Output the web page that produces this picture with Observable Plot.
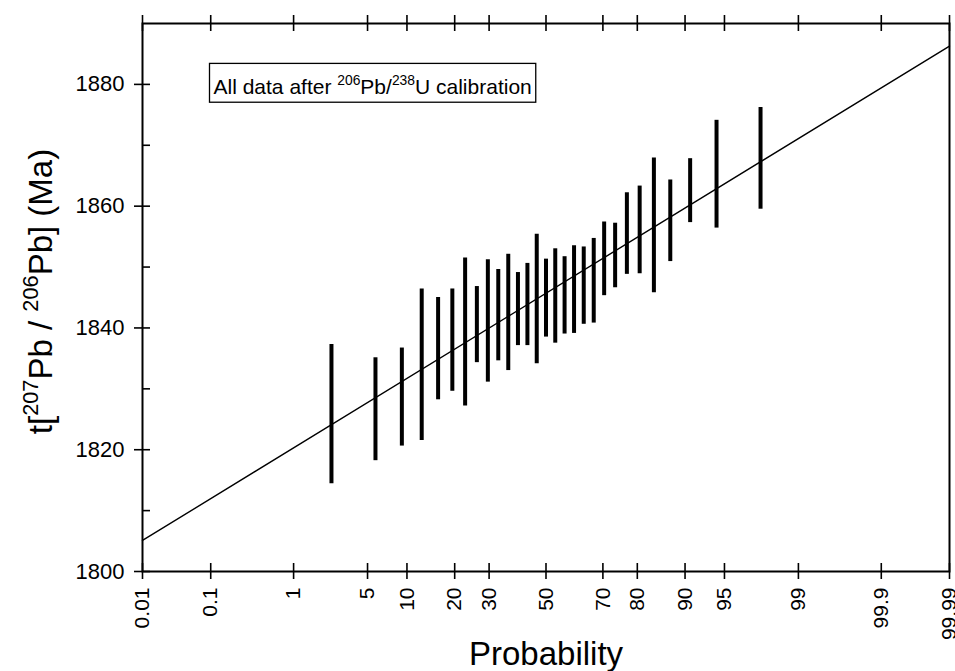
<!DOCTYPE html>
<html>
<head>
<meta charset="utf-8">
<script src="https://cdn.jsdelivr.net/npm/d3@7"></script>
<script src="https://cdn.jsdelivr.net/npm/@observablehq/plot@0.6"></script>
<style>
  html, body { margin: 0; padding: 0; background: #fff; }
  #chart svg { display: block; }
</style>
</head>
<body>
<div id="chart"></div>
<script>
// ---- data ----
const probability = [2.4, 5.8, 9.2, 12.6, 16.0, 19.4, 22.8, 26.2, 29.6, 33.0, 36.4, 39.8, 43.2, 46.6, 50.0,
  53.4, 56.8, 60.2, 63.6, 67.0, 70.4, 73.8, 77.2, 80.6, 84.0, 87.4, 90.8, 94.2, 97.6];
const ageHigh = [1837.3, 1835.1, 1836.7, 1846.4, 1845.0, 1846.4, 1851.5, 1846.8, 1851.2, 1849.6, 1852.1, 1849.1,
  1850.6, 1855.4, 1851.3, 1853.0, 1851.7, 1853.5, 1853.3, 1854.7, 1857.4, 1857.2, 1862.2, 1863.3, 1867.9,
  1864.3, 1867.8, 1874.1, 1876.2];
const ageLow = [1814.4, 1818.2, 1820.6, 1821.5, 1828.2, 1829.6, 1827.2, 1834.3, 1831.1, 1834.6, 1833.0, 1837.1,
  1837.1, 1834.1, 1838.5, 1837.5, 1839.0, 1839.1, 1840.6, 1840.8, 1845.3, 1846.6, 1848.8, 1848.9, 1845.8,
  1850.9, 1857.3, 1856.4, 1859.5];
const fitProbability = [0.01, 99.99];
const fitAge = [1805.1, 1886.3];
const xTickValues = [0.01, 0.1, 1, 5, 10, 20, 30, 50, 70, 80, 90, 95, 99, 99.9, 99.99];
const xTickLabels = ["0.01", "0.1", "1", "5", "10", "20", "30", "50", "70", "80", "90", "95", "99", "99.9", "99.99"];
const yMajorTicks = [1800, 1820, 1840, 1860, 1880];
const yMinorTicks = [1810, 1830, 1850, 1870];
const xDomainPct = [0.01, 99.99];
const yDomain = [1800, 1890];
const xTitle = "Probability";
const yTitleParts = [["t[", false], ["207", true], ["Pb / ", false], ["206", true], ["Pb] (Ma)", false]];
const noteParts = [["All data after ", false], ["206", true], ["Pb/", false], ["238", true], ["U calibration", false]];

// inverse standard normal CDF (probability-paper x scale)
function probit(p) {
  const a = [-3.969683028665376e+01, 2.209460984245205e+02, -2.759285104469687e+02, 1.383577518672690e+02, -3.066479806614716e+01, 2.506628277459239e+00];
  const b = [-5.447609879822406e+01, 1.615858368580409e+02, -1.556989798598866e+02, 6.680131188771972e+01, -1.328068155288572e+01];
  const c = [-7.784894002430293e-03, -3.223964580411365e-01, -2.400758277161838e+00, -2.549732539343734e+00, 4.374664141464968e+00, 2.938163982698783e+00];
  const d = [7.784695709041462e-03, 3.224671290700398e-01, 2.445134137142996e+00, 3.754408661907416e+00];
  const plow = 0.02425, phigh = 1 - plow;
  let q, r;
  if (p < plow) {
    q = Math.sqrt(-2 * Math.log(p));
    return (((((c[0]*q+c[1])*q+c[2])*q+c[3])*q+c[4])*q+c[5]) / ((((d[0]*q+d[1])*q+d[2])*q+d[3])*q+1);
  }
  if (p > phigh) {
    q = Math.sqrt(-2 * Math.log(1 - p));
    return -(((((c[0]*q+c[1])*q+c[2])*q+c[3])*q+c[4])*q+c[5]) / ((((d[0]*q+d[1])*q+d[2])*q+d[3])*q+1);
  }
  q = p - 0.5; r = q * q;
  return (((((a[0]*r+a[1])*r+a[2])*r+a[3])*r+a[4])*r+a[5])*q / (((((b[0]*r+b[1])*r+b[2])*r+b[3])*r+b[4])*r+1);
}
const zOf = pct => probit(pct / 100);

const bars = probability.map((p, i) => ({p, lo: ageLow[i], hi: ageHigh[i]}));
const fit = fitProbability.map((p, i) => ({p, age: fitAge[i]}));
const yTitlePlain = yTitleParts.map(d => d[0]).join("");
const notePlain = noteParts.map(d => d[0]).join("");

const FONT = "'Liberation Sans', Arial, Helvetica, sans-serif";

const plot = Plot.plot({
  width: 955,
  height: 671,
  marginLeft: 142,
  marginRight: 6,
  marginTop: 23,
  marginBottom: 100,
  style: {fontFamily: FONT, background: "#fff", color: "#000", overflow: "visible"},
  x: {type: "linear", domain: xDomainPct.map(zOf), axis: null},
  y: {type: "linear", domain: yDomain, axis: null},
  marks: [
    // fitted line
    Plot.line(fit, {x: d => zOf(d.p), y: "age", stroke: "#000", strokeWidth: 1.4}),
    // error bars
    Plot.ruleX(bars, {x: d => zOf(d.p), y1: "lo", y2: "hi", stroke: "#000", strokeWidth: 4}),
    // frame
    Plot.frame({stroke: "#000", strokeWidth: 2}),
    // bottom & top ticks (crossing)
    Plot.ruleX(xTickValues, {x: d => zOf(d), y1: yDomain[0], y2: yDomain[0], insetTop: 8, insetBottom: 8, stroke: "#000", strokeWidth: 1.6}),
    Plot.ruleX(xTickValues, {x: d => zOf(d), y1: yDomain[1], y2: yDomain[1], insetTop: 8, insetBottom: 8, stroke: "#000", strokeWidth: 1.6}),
    // left ticks
    Plot.ruleY(yMajorTicks, {y: d => d, x1: zOf(xDomainPct[0]), x2: zOf(xDomainPct[0]), insetLeft: 8, insetRight: 8, stroke: "#000", strokeWidth: 1.6}),
    Plot.ruleY(yMinorTicks, {y: d => d, x1: zOf(xDomainPct[0]), x2: zOf(xDomainPct[0]), insetLeft: 8, insetRight: 0, stroke: "#000", strokeWidth: 1.6}),
    // tick labels
    Plot.text(xTickValues, {x: d => zOf(d), frameAnchor: "bottom", text: (d, i) => xTickLabels[i], rotate: -90,
      textAnchor: "end", lineAnchor: "middle", dy: 16, fontSize: 21, fill: "#000"}),
    Plot.text(yMajorTicks, {y: d => d, frameAnchor: "left", text: d => String(d), textAnchor: "end",
      lineAnchor: "middle", dx: -18, fontSize: 22, fill: "#000"}),
    // axis titles
    Plot.text([xTitle], {frameAnchor: "bottom", text: d => d, dy: 83, fontSize: 33, lineAnchor: "middle", fill: "#000"}),
    Plot.text([yTitlePlain], {frameAnchor: "left", text: d => d, rotate: -90, dx: -101, dy: -6, fontSize: 33,
      lineAnchor: "middle", textAnchor: "middle", fill: "#000"}),
    // annotation
    Plot.text([notePlain], {frameAnchor: "top-left", text: d => d, dx: 71, dy: 64, fontSize: 21,
      textAnchor: "start", lineAnchor: "middle", fill: "#000"})
  ]
});

document.getElementById("chart").appendChild(plot);

// ---- rich text (superscripts) ----
const NS = "http://www.w3.org/2000/svg";
function setRich(el, parts, fontSize) {
  while (el.firstChild) el.removeChild(el.firstChild);
  const supSize = fontSize * 0.66, shift = fontSize * 0.42;
  let raised = false;
  for (const [s, sup] of parts) {
    const t = document.createElementNS(NS, "tspan");
    t.textContent = s;
    if (sup && !raised) { t.setAttribute("dy", -shift); raised = true; }
    else if (!sup && raised) { t.setAttribute("dy", shift); raised = false; }
    if (sup) t.setAttribute("font-size", supSize);
    el.appendChild(t);
  }
}
const texts = Array.from(plot.querySelectorAll("text"));
const yTitleEl = texts.find(t => t.textContent === yTitlePlain);
const noteEl = texts.find(t => t.textContent === notePlain);
if (yTitleEl) { yTitleEl.setAttribute("xml:space", "preserve"); setRich(yTitleEl, yTitleParts, 33); }
if (noteEl) {
  noteEl.setAttribute("xml:space", "preserve");
  setRich(noteEl, noteParts, 21);
  const bb = noteEl.getBBox();
  const rect = document.createElementNS(NS, "rect");
  rect.setAttribute("x", bb.x - 4);
  rect.setAttribute("y", bb.y - 9);
  rect.setAttribute("width", bb.width + 8);
  rect.setAttribute("height", bb.height + 13);
  rect.setAttribute("fill", "none");
  rect.setAttribute("stroke", "#000");
  rect.setAttribute("stroke-width", 1.3);
  const tf = noteEl.getAttribute("transform");
  if (tf) rect.setAttribute("transform", tf);
  noteEl.parentNode.insertBefore(rect, noteEl);
}
</script>
</body>
</html>
